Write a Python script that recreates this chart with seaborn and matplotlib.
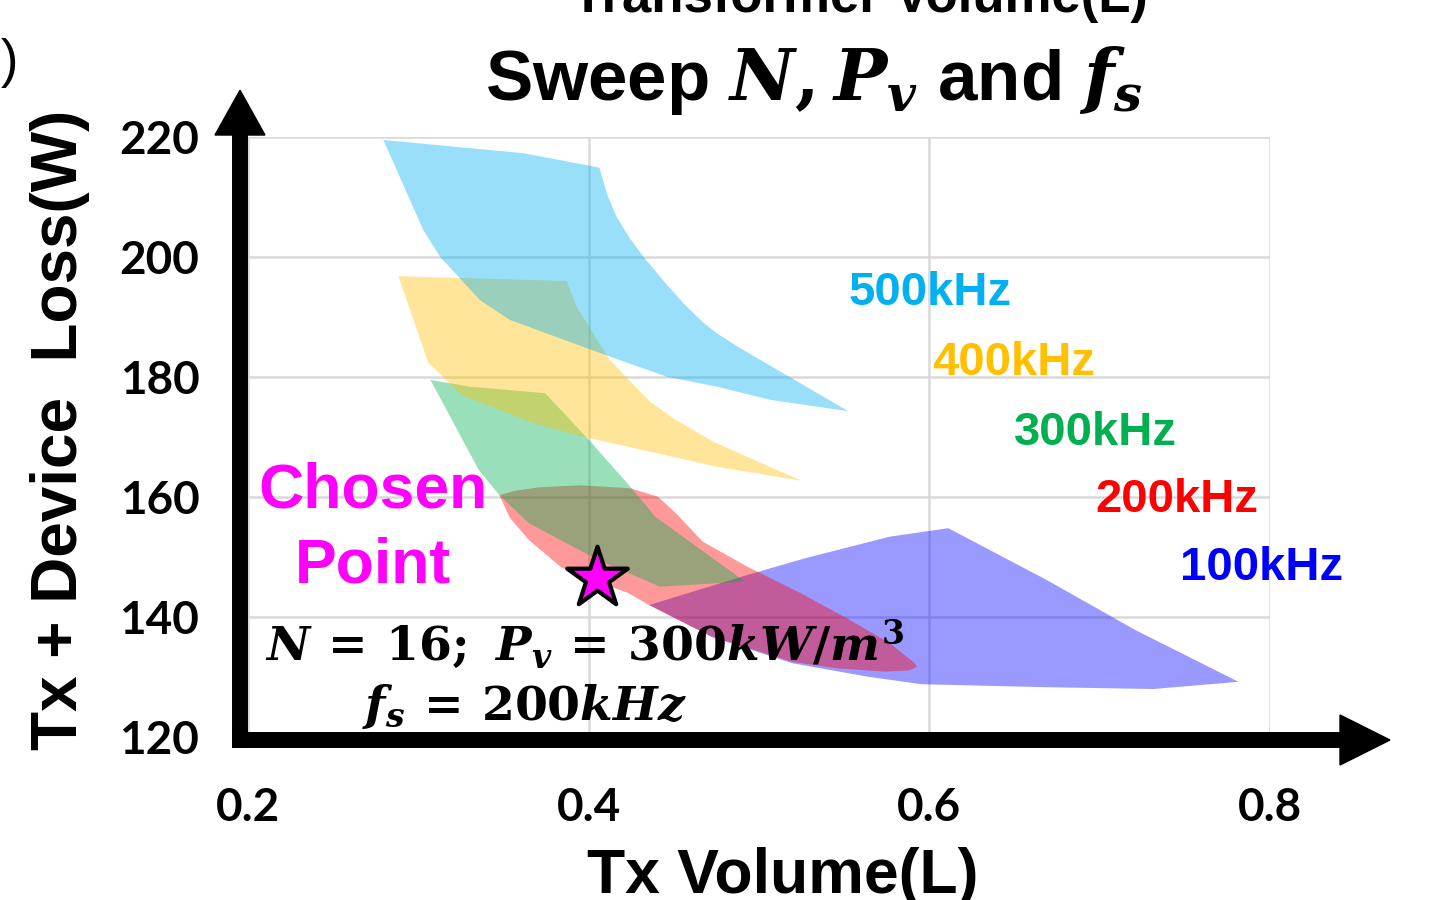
import matplotlib
matplotlib.use("Agg")
import matplotlib.pyplot as plt
import seaborn as sns
import pandas as pd
from matplotlib.patches import Polygon
from matplotlib.lines import Line2D

# ---------------- data ----------------
freq_labels = ["100kHz", "200kHz", "300kHz", "400kHz", "500kHz"]

x_100k = [0.4355, 0.4931, 0.5272, 0.5770, 0.6111, 0.6687, 0.7211, 0.7815,
          0.7317, 0.6687, 0.5953, 0.5639, 0.5194, 0.4722]
y_100k = [142.0, 147.0, 149.8, 153.4, 154.8, 146.2, 137.8, 129.2,
          128.0, 128.3, 128.8, 130.05, 132.3, 136.7]

x_200k = [0.3476, 0.3560, 0.3705, 0.3948, 0.4245, 0.4407, 0.4512, 0.4670,
          0.4931, 0.5246, 0.5534, 0.5770, 0.5914, 0.5928, 0.5880, 0.5744,
          0.5456, 0.5194, 0.4722, 0.4354, 0.4231, 0.4067, 0.3838, 0.3650,
          0.3538]
y_200k = [160.3, 161.0, 161.6, 161.95, 161.45, 160.05, 157.3, 152.55,
          148.4, 143.95, 139.5, 135.6, 132.3, 131.7, 131.1, 130.9,
          131.45, 132.55, 136.7, 142.0, 144.0, 145.7, 148.3, 152.8,
          156.5]

x_300k = [0.3071, 0.3303, 0.3745, 0.4002, 0.4245, 0.4392, 0.4918, 0.4419,
          0.4055, 0.3651, 0.3476, 0.3355]
y_300k = [179.5, 178.4, 177.3, 169.5, 161.7, 156.7, 145.9, 145.05,
          149.5, 155.6, 160.3, 164.5]

x_400k = [0.2883, 0.3871, 0.3929, 0.4125, 0.4360, 0.4497, 0.4732, 0.5250,
          0.4751, 0.4008, 0.3675, 0.3254, 0.3058]
y_400k = [196.8, 196.0, 191.7, 182.8, 175.9, 173.1, 169.2, 162.7,
          165.05, 169.8, 172.3, 177.0, 182.4]

x_500k = [0.2795, 0.3617, 0.4063, 0.4110, 0.4164, 0.4240, 0.4321, 0.4440,
          0.4556, 0.4660, 0.4751, 0.4908, 0.5524, 0.5065, 0.4751, 0.4458,
          0.4125, 0.3538, 0.3362, 0.3127, 0.3029]
y_500k = [219.5, 217.3, 214.9, 210.3, 206.7, 203.2, 200.05, 196.0,
          192.3, 189.4, 187.3, 184.5, 174.3, 176.2, 178.4, 180.05,
          183.4, 189.5, 192.8, 200.05, 204.5]

chosen_x = [0.4049]
chosen_y = [146.5]

x_ticks = [0.2, 0.4, 0.6, 0.8]
x_tick_labels = ["0.2", "0.4", "0.6", "0.8"]
y_ticks = [120, 140, 160, 180, 200, 220]
y_tick_labels = ["120", "140", "160", "180", "200", "220"]

# label anchor (data coords) for each frequency label
label_x = [0.7469, 0.6976, 0.6497, 0.6016, 0.5528]
label_y = [146.2, 157.5, 168.7, 180.3, 192.0]

# ---------------- style ----------------
series_x = [x_100k, x_200k, x_300k, x_400k, x_500k]
series_y = [y_100k, y_200k, y_300k, y_400k, y_500k]
fill_colors = ["#0000FF", "#FF0000", "#00B050", "#FFC000", "#00B0F0"]
text_colors = ["#0000FF", "#FF0000", "#00B050", "#FFC000", "#00B0F0"]

sns.set_theme(style="white")
plt.rcParams["font.family"] = ["Liberation Sans", "DejaVu Sans"]
plt.rcParams["mathtext.fontset"] = "custom"
plt.rcParams["mathtext.rm"] = "DejaVu Serif:bold"
plt.rcParams["mathtext.it"] = "DejaVu Serif:italic:bold"
plt.rcParams["mathtext.bf"] = "DejaVu Serif:bold"

W, H = 1435, 900
fig = plt.figure(figsize=(W / 100, H / 100), dpi=100)
fig.patch.set_facecolor("white")


def fx(px):
    return px / W


def fy(py):
    return 1 - py / H


ax = fig.add_axes([fx(248), fy(737), 1022 / W, 600 / H])
ax.set_facecolor("white")
ax.set_xlim(0.2, 0.8)
ax.set_ylim(120, 220)

for sp in ax.spines.values():
    sp.set_visible(False)

ax.set_xticks(x_ticks)
ax.set_xticklabels(x_tick_labels)
ax.set_yticks(y_ticks)
ax.set_yticklabels(y_tick_labels)
ax.tick_params(axis="both", length=0)
ax.tick_params(axis="x", pad=36)
ax.tick_params(axis="y", pad=35)
for lab in ax.get_xticklabels() + ax.get_yticklabels():
    lab.set_fontfamily(["Lato", "DejaVu Sans"])
    lab.set_fontweight("bold")
    lab.set_fontsize(33)
    lab.set_color("black")

ax.grid(True, color="#D9D9D9", lw=1.8)
ax.set_axisbelow(True)

# polygons (purple bottom, blue on top)
for xs, ys, c in zip(series_x, series_y, fill_colors):
    ax.fill(xs, ys, color=c, alpha=0.4, lw=0, zorder=2)

# chosen point star
df_pt = pd.DataFrame({"x": chosen_x, "y": chosen_y})
sns.scatterplot(data=df_pt, x="x", y="y", marker="*", s=2100, color="#FF00FF",
                edgecolor="black", linewidth=3, ax=ax, zorder=6, legend=False)
ax.set_xlabel("")
ax.set_ylabel("")

# frequency labels
for lx, ly, lab, c in zip(label_x, label_y, freq_labels, text_colors):
    ax.text(lx, ly, lab, color=c, fontsize=34, fontweight="bold",
            ha="left", va="baseline", zorder=7)

# chosen point text
ax.text(0.2734, 158.3, "Chosen", color="#FF00FF", fontsize=45,
        fontweight="bold", ha="center", va="baseline", zorder=7)
ax.text(0.2734, 145.7, "Point", color="#FF00FF", fontsize=45,
        fontweight="bold", ha="center", va="baseline", zorder=7)

# thick black axes with arrow heads
ax.add_line(Line2D([-0.0078, -0.0078], [-0.0183, 1.005], transform=ax.transAxes,
                   lw=11.5, color="black", solid_capstyle="butt", clip_on=False, zorder=8))
ax.add_line(Line2D([-0.0157, 1.07], [-0.005, -0.005], transform=ax.transAxes,
                   lw=11.5, color="black", solid_capstyle="butt", clip_on=False, zorder=8))
ax.add_patch(Polygon([[-0.0323, 1.0033], [0.0166, 1.0033], [-0.0078, 1.078]],
                     closed=True, transform=ax.transAxes, color="black",
                     clip_on=False, zorder=8))
ax.add_patch(Polygon([[1.0685, 0.0367], [1.0685, -0.0467], [1.1174, -0.005]],
                     closed=True, transform=ax.transAxes, color="black",
                     clip_on=False, zorder=8))

# annotation of chosen design
fig.text(fx(265), fy(660), r"$N\,=\,16;\ P_v\,=\,300kW/m^3$", fontsize=34,
         ha="left", va="baseline", color="black", zorder=9)
fig.text(fx(362), fy(720), r"$f_s\,=\,200kHz$", fontsize=34,
         ha="left", va="baseline", color="black", zorder=9)

# titles / labels
fig.text(fx(485), fy(100), r"Sweep $N, P_v$ and $f_s$", fontsize=51,
         fontweight="bold", ha="left", va="baseline", color="black")
fig.text(fx(860), fy(12), "Transformer Volume(L)", fontsize=38,
         fontweight="bold", ha="center", va="baseline", color="black")
fig.text(fx(19), fy(77), "(L)", fontsize=38, ha="right", va="baseline",
         color="black")
fig.text(fx(60), fy(430), "Tx + Device  Loss(W)", rotation=90, fontsize=46,
         fontweight="bold", ha="center", va="center", color="black")
fig.text(fx(783), fy(893), "Tx Volume(L)", fontsize=45, fontweight="bold",
         ha="center", va="baseline", color="black")

fig.savefig("out.png", dpi=100)
